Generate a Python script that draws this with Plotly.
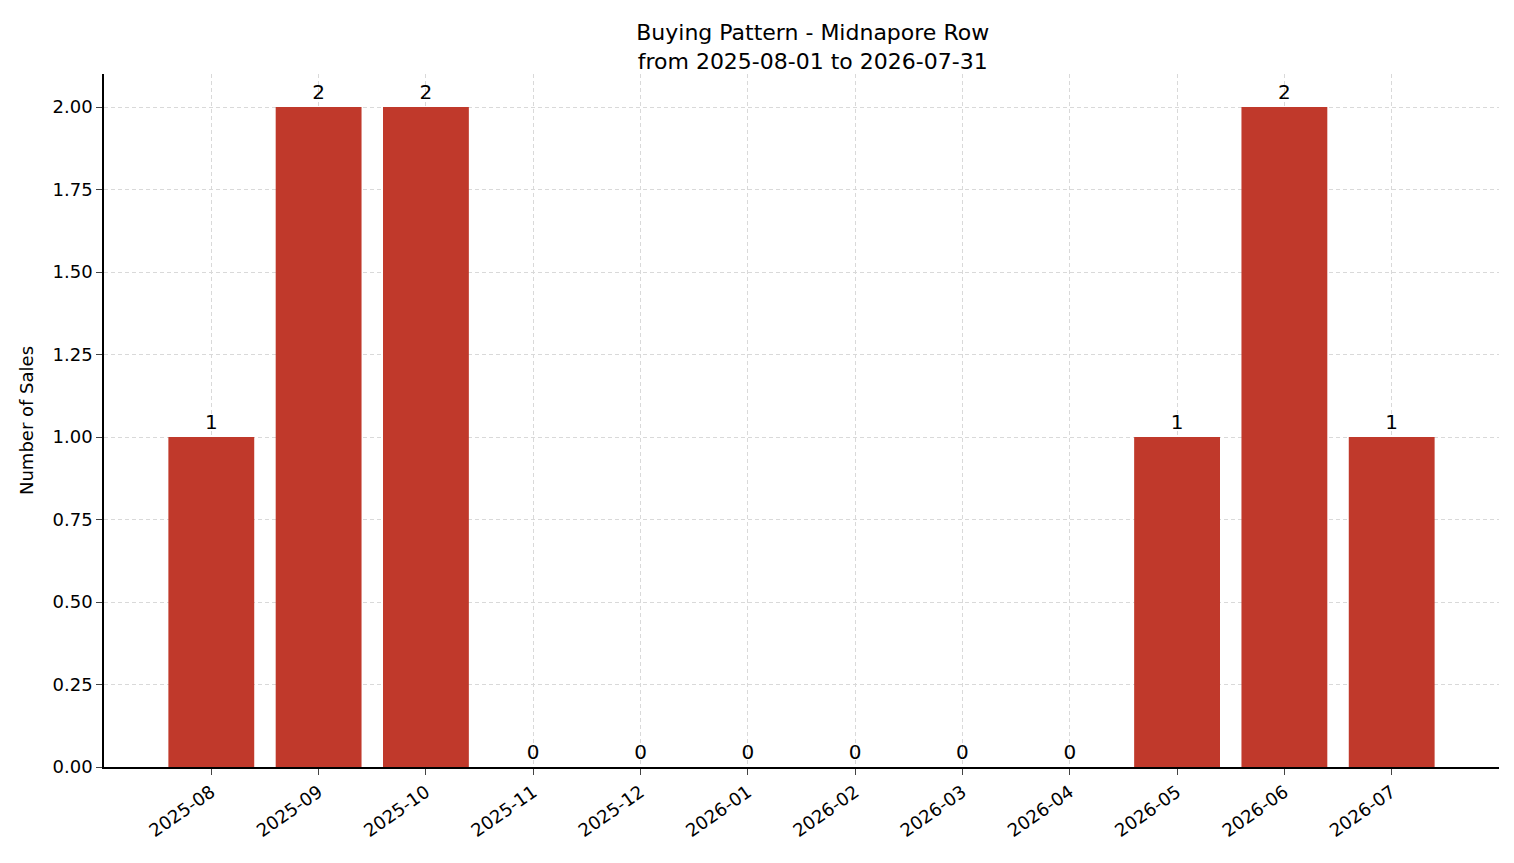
import plotly.graph_objects as go

months = ["2025-08","2025-09","2025-10","2025-11","2025-12","2026-01","2026-02","2026-03","2026-04","2026-05","2026-06","2026-07"]
sales = [1, 2, 2, 0, 0, 0, 0, 0, 0, 1, 2, 1]
yticks = [0, 0.25, 0.5, 0.75, 1.0, 1.25, 1.5, 1.75, 2.0]

fig = go.Figure(go.Bar(
    x=list(range(len(months))), y=sales, width=0.8,
    marker=dict(color="#c0392b", line=dict(width=0)),
    text=[str(v) for v in sales], textposition="outside",
    textfont=dict(size=20, color="black"), cliponaxis=False,
))
fig.update_layout(
    width=1514, height=863,
    margin=dict(l=96, r=23, t=66, b=104),
    paper_bgcolor="white", plot_bgcolor="white",
    font=dict(family="DejaVu Sans", size=17, color="black"),
    title=dict(text="Buying Pattern - Midnapore Row<br>from 2025-08-01 to 2026-07-31",
               x=0.5315, xanchor="center", y=0.963, yanchor="top", font=dict(size=22)),
    showlegend=False,
)
fig.update_xaxes(
    range=[-1, 12], tickmode="array", tickvals=list(range(len(months))), ticktext=months,
    tickangle=-35, showgrid=True, gridcolor="#d9d9d9", griddash="4px,3px", gridwidth=1,
    showline=True, linecolor="black", linewidth=1.5, ticks="outside", ticklen=6,
    tickfont=dict(size=18), zeroline=False,
)
fig.update_yaxes(
    range=[0, 2.1], tickmode="array", tickvals=yticks,
    ticktext=[f"{v:.2f}" for v in yticks],
    showgrid=True, gridcolor="#d9d9d9", griddash="4px,3px", gridwidth=1,
    showline=True, linecolor="black", linewidth=1.5, ticks="outside", ticklen=6,
    tickfont=dict(size=18), zeroline=False,
    title=dict(text="Number of Sales", font=dict(size=18), standoff=14),
)
fig.write_html("out.html")
